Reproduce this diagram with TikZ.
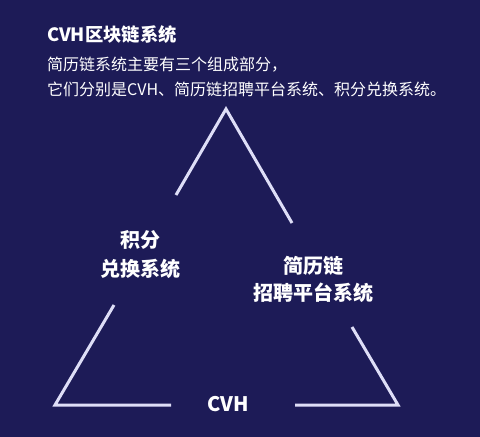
\documentclass[tikz,border=0pt]{standalone}
\usepackage{fontspec}
\setmainfont{Noto Sans CJK SC}
\usepackage{tikz}
\usetikzlibrary{positioning}

\definecolor{navy}{RGB}{29,27,87}
\definecolor{lilac}{RGB}{222,222,247}

\tikzset{
  part/.style={font=\bfseries\fontsize{20}{26}\selectfont, text=white, align=center, inner sep=0pt},
  edge/.style={draw=lilac, line width=3pt, line join=miter}
}

\begin{document}
\begin{tikzpicture}[x=1pt, y=-1pt]
      \fill[navy] (0,0) rectangle (480,437);
      \useasboundingbox (0,0) rectangle (480,437);

      \node[anchor=west, inner sep=0pt, text=white, font=\bfseries\fontsize{18.3}{22}\selectfont]
        (T)  at (47, 35) {CVH区块链系统};
      \node[anchor=west, inner sep=0pt, text=white, font=\fontsize{16}{20}\selectfont]
        (L1) at (47, 65) {简历链系统主要有三个组成部分，};
      \node[anchor=west, inner sep=0pt, text=white, font=\fontsize{16}{20}\selectfont]
        (L2) at (47, 89) {它们分别是CVH、简历链招聘平台系统、积分兑换系统。};

      \coordinate (A)  at (226, 109);
      \coordinate (A1) at (176, 195);
      \coordinate (A2) at (292, 223);
      \coordinate (B)  at (55,  405);
      \coordinate (B1) at (114, 305);
      \coordinate (B2) at (171, 405);
      \coordinate (C)  at (398, 405);
      \coordinate (C1) at (352, 327);
      \coordinate (C2) at (295, 405);

      \draw[edge] (A1) -- (A) -- (A2);
      \draw[edge] (B1) -- (B) -- (B2);
      \draw[edge] (C2) -- (C) -- (C1);

      \node[part] (P1) at (140, 240) {积分};
      \node[part] (P2) at (140, 269) {兑换系统};
      \node[part] (J1) at (313, 266) {简历链};
      \node[part] (J2) at (313, 293) {招聘平台系统};
      \node[part] (V)  at (228, 404) {CVH};
    \end{tikzpicture}
\end{document}
